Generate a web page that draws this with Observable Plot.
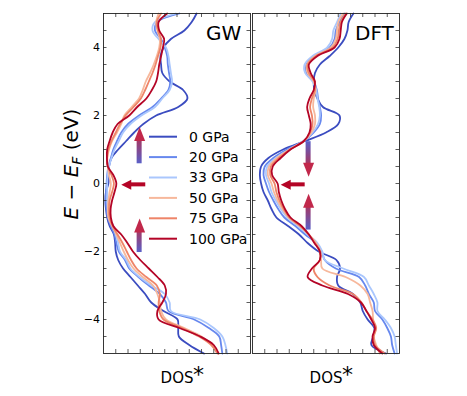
<!DOCTYPE html>
<html><head><meta charset="utf-8">
<script src="https://cdn.jsdelivr.net/npm/d3@7"></script>
<script src="https://cdn.jsdelivr.net/npm/@observablehq/plot@0.6"></script>
<style>
body{margin:0;background:#fff;}
#wrap{position:relative;width:467px;height:396px;font-family:"DejaVu Sans",sans-serif;color:#000;}
#ylab{position:absolute;left:71px;top:164px;transform:translate(-50%,-50%) rotate(-90deg);font-size:20px;white-space:nowrap;line-height:1;font-weight:normal;}
#ylab .sub{font-size:70%;position:relative;top:0.3em;}
</style></head><body><div id="wrap"></div>
<script>
const panels = ["GW", "DFT"];
const pressures = ["0 GPa", "20 GPa", "33 GPa", "50 GPa", "75 GPa", "100 GPa"];
const colors = ["#3b4cc0", "#6788ee", "#aac7fd", "#f7b89c", "#ee8468", "#b40426"];
const yTickLabels = [-4, -2, 0, 2, 4];
const energies = [-5,-4.75,-4.5,-4.25,-4,-3.75,-3.5,-3.25,-3,-2.75,-2.5,-2.25,-2,-1.75,-1.5,-1.25,-1,-0.75,-0.5,-0.25,0,0.25,0.5,0.75,1,1.25,1.5,1.75,2,2.25,2.5,2.75,3,3.25,3.5,3.75,4,4.25,4.5,4.75,5];

const gw0   = [8.2,7.0,6.15,6.1,6.05,4.9,3.9,3.4,2.8,2.2,1.6,1.2,1.0,0.95,0.85,0.5,0.3,0.2,0.15,0.2,0.4,0.45,0.45,0.65,1.2,1.85,2.5,3.25,4.3,6.1,6.85,6.5,5.4,4.8,4.7,4.65,4.9,5.5,6.6,7.2,7.6];
const gw20  = [9.7,9.6,9.45,8.6,7.4,5.3,5.1,4.6,3.7,2.85,2.1,1.75,1.25,1.05,0.9,0.6,0.35,0.25,0.2,0.2,0.25,0.3,0.4,0.6,0.8,1.1,1.45,2.0,2.9,4.0,4.7,5.3,5.45,5.35,5.25,5.2,5.0,4.7,4.2,4.4,6.2];
const gw33  = [10.1,9.95,9.7,9.0,7.9,5.5,5.4,5.0,3.9,2.95,2.2,1.85,1.35,1.2,1.0,0.8,0.5,0.35,0.3,0.3,0.3,0.35,0.45,0.65,0.9,1.25,1.6,2.2,3.1,4.2,4.8,5.4,5.6,5.5,5.4,5.3,5.1,4.5,4.0,4.2,5.9];
const gw50  = [9.4,8.9,8.0,6.6,5.1,4.7,4.6,4.4,4.05,3.2,2.45,2.0,1.65,1.35,1.05,0.7,0.4,0.35,0.4,0.5,0.6,0.45,0.35,0.3,0.45,0.7,1.1,1.45,1.7,2.3,2.9,3.2,3.45,3.8,4.1,4.35,4.55,4.6,4.4,4.3,4.5];
const gw75  = [9.3,8.8,7.8,6.4,4.9,4.55,4.5,4.6,4.35,3.5,2.7,2.25,1.9,1.55,1.15,0.75,0.5,0.45,0.5,0.7,0.85,0.65,0.35,0.3,0.4,0.65,1.0,1.35,1.8,2.45,3.05,3.4,3.7,4.0,4.25,4.45,4.65,4.7,4.45,4.35,4.7];
const gw100 = [9.4,9.0,7.9,6.2,4.5,4.4,4.8,5.1,5.0,4.4,3.7,3.0,2.4,1.95,1.45,0.8,0.6,0.58,0.7,0.9,1.05,0.8,0.35,0.28,0.3,0.5,0.75,1.15,2.1,2.75,3.5,3.95,4.3,4.45,4.55,4.7,4.85,4.95,4.55,4.5,5.2];

const dft0   = [10.9,9.7,9.85,9.95,9.4,9.0,8.8,8.2,7.0,6.9,7.15,6.85,5.4,4.5,3.8,2.9,1.95,1.55,1.25,0.9,0.7,0.6,0.7,1.3,2.5,4.3,6.0,7.0,7.1,5.75,5.3,5.05,5.0,5.1,5.5,6.3,7.0,7.5,7.75,7.85,8.24];
const dft20  = [11.6,11.4,11.3,11.0,10.6,10.0,9.9,9.5,9.2,8.7,6.8,5.9,5.65,5.2,4.3,3.5,2.6,2.1,1.7,1.35,1.1,0.9,1.0,1.7,2.8,4.2,5.0,5.5,5.6,5.5,5.35,5.25,5.0,4.4,4.4,5.0,6.3,6.7,6.8,7.1,7.5];
const dft33  = [11.8,11.7,11.6,11.3,10.8,10.2,10.2,9.9,9.5,9.1,7.4,5.9,5.7,5.3,4.5,3.7,2.85,2.3,1.9,1.55,1.35,1.1,1.2,1.9,3.0,4.15,4.9,5.35,5.5,5.45,5.3,5.2,4.9,4.3,4.25,4.9,6.1,6.5,6.6,6.9,7.2];
const dft50  = [10.4,10.1,9.9,10.0,9.85,9.8,9.6,9.4,8.8,7.6,5.7,5.6,5.55,5.2,4.6,3.85,2.95,2.45,2.05,1.75,1.55,1.25,1.35,2.0,3.0,4.2,4.8,5.1,5.1,4.95,5.0,5.15,5.0,4.5,4.45,5.1,6.4,6.8,6.9,7.0,7.4];
const dft75  = [10.8,10.0,9.9,10.1,9.8,9.3,8.9,8.2,6.3,5.3,5.0,5.5,5.5,5.1,4.6,3.9,3.0,2.55,2.2,1.95,1.8,1.45,1.5,2.15,3.05,4.2,4.7,4.9,4.85,4.7,4.85,5.1,5.05,4.6,4.5,5.2,6.55,6.95,7.05,7.2,7.6];
const dft100 = [10.6,9.9,9.8,10.0,9.7,9.3,8.85,7.8,5.7,4.5,4.85,5.5,5.5,5.05,4.6,4.0,3.1,2.65,2.35,2.15,2.05,1.6,1.65,2.3,3.1,4.2,4.65,4.75,4.6,4.46,4.65,5.0,5.1,4.75,4.6,5.3,6.7,7.1,7.2,7.3,7.7];

// annotation arrows (data units: DOS*, eV)
const arrowsUp   = [{panel:"GW", x:2.95, from:0.58, to:1.66}, {panel:"GW", x:2.95, from:-2.03, to:-1.03}, {panel:"DFT", x:4.58, from:-1.37, to:-0.3}];
const arrowsDown = [{panel:"DFT", x:4.58, from:1.23, to:0.2}];
const arrowsLeft = [{panel:"GW", y:-0.04, from:3.45, to:1.45}, {panel:"DFT", y:-0.04, from:4.3, to:2.3}];

const series = {GW: [gw0, gw20, gw33, gw50, gw75, gw100], DFT: [dft0, dft20, dft33, dft50, dft75, dft100]};
const rows = [];
for (const panel of panels) series[panel].forEach((vals, k) => vals.forEach((v, i) => rows.push({panel, p: pressures[k], E: energies[i], dos: v})));

const band = 147.5, frameH = 340;
const yMinor = d3.range(-4.5, 4.51, 0.5);
const xMinor = d3.range(1, 12, 1);
const tickStyle = {stroke: "#333", strokeWidth: 0.8};
const head = (w, h) => ({draw(ctx) { ctx.moveTo(0, 0); ctx.lineTo(w / 2, h); ctx.lineTo(-w / 2, h); ctx.closePath(); }});
const headV = head(11, 14), headH = head(10, 10);

const svg = Plot.plot({
  width: 467, height: 396,
  marginLeft: 103, marginRight: 67, marginTop: 13, marginBottom: 43,
  style: {fontFamily: "DejaVu Sans", fontSize: "11px", background: "white", color: "#000"},
  fx: {domain: panels, axis: null, paddingInner: 0.0134, paddingOuter: 0},
  x: {domain: [0, 12], axis: null},
  y: {domain: [-5, 5]},
  color: {domain: pressures, range: colors},
  marks: [
    Plot.line(rows, {fx: "panel", x: "dos", y: "E", z: "p", stroke: "p", strokeWidth: 1.8, curve: "catmull-rom"}),
    Plot.rect(arrowsUp, {fx: "panel", x1: "x", x2: "x", y1: "from", y2: "to", insetLeft: -2.5, insetRight: -2.5, insetTop: 12, fill: "url(#gUp)"}),
    Plot.rect(arrowsDown, {fx: "panel", x1: "x", x2: "x", y1: "from", y2: "to", insetLeft: -2.5, insetRight: -2.5, insetBottom: 12, fill: "url(#gDown)"}),
    Plot.dot(arrowsUp, {fx: "panel", x: "x", y: "to", symbol: headV, fill: "#c1284b", stroke: "none", rotate: 0}),
    Plot.dot(arrowsDown, {fx: "panel", x: "x", y: "to", symbol: headV, fill: "#c1284b", stroke: "none", rotate: 180}),
    Plot.rect(arrowsLeft, {fx: "panel", x1: "from", x2: "to", y1: "y", y2: "y", insetTop: -2, insetBottom: -2, insetLeft: 8, fill: "#b40426"}),
    Plot.dot(arrowsLeft, {fx: "panel", x: "to", y: "y", symbol: headH, fill: "#b40426", stroke: "none", rotate: -90}),
    Plot.tickY(yMinor, {y: d => d, insetRight: band - 4, ...tickStyle}),
    Plot.tickY(yMinor, {y: d => d, insetLeft: band - 4, ...tickStyle}),
    Plot.tickX(xMinor, {x: d => d, insetTop: frameH - 4, ...tickStyle}),
    Plot.tickX(xMinor, {x: d => d, insetBottom: frameH - 4, ...tickStyle}),
    Plot.frame({stroke: "#222", strokeWidth: 0.9}),
    Plot.axisY({ticks: yTickLabels, tickSize: 0, tickPadding: 3.5, label: null, fontSize: 11}),
    Plot.text(panels, {fx: d => d, text: d => d, frameAnchor: "top-left", dx: 102.5, dy: 20, textAnchor: "start", lineAnchor: "middle", fontSize: 20, fill: "#000"}),
    Plot.text(panels, {fx: d => d, text: () => "DOS", frameAnchor: "bottom", dx: 16.5, dy: 29, textAnchor: "end", lineAnchor: "bottom", fontSize: 15, fill: "#000"}),
    Plot.text(panels, {fx: d => d, text: () => "*", frameAnchor: "bottom", dx: 16, dy: 28.5, textAnchor: "start", lineAnchor: "bottom", fontSize: 22, fill: "#000"})
  ]
});

const defs = d3.select(svg).insert("defs", ":first-child");
const grad = (id, y1, y2) => {
  const g = defs.append("linearGradient").attr("id", id).attr("x1", 0).attr("x2", 0).attr("y1", y1).attr("y2", y2);
  g.append("stop").attr("offset", "0%").attr("stop-color", "#5a60c8");
  g.append("stop").attr("offset", "100%").attr("stop-color", "#a8365f");
};
grad("gUp", 1, 0);
grad("gDown", 0, 1);

const wrap = document.getElementById("wrap");
wrap.appendChild(svg);
svg.style.position = "absolute"; svg.style.left = "0"; svg.style.top = "0";

const ylab = document.createElement("div");
ylab.id = "ylab";
ylab.innerHTML = '<i>E</i> \u2212 <i>E</i><span class="sub"><i>F</i></span> (eV)';
wrap.appendChild(ylab);

// legend (SVG overlay)
const leg = d3.select(wrap).append("svg")
  .attr("width", 110).attr("height", 130)
  .style("position", "absolute").style("left", "145px").style("top", "125px")
  .style("font-family", "DejaVu Sans").style("font-size", "14px");
const items = leg.selectAll("g").data(pressures).join("g")
  .attr("transform", (d, k) => `translate(0,${11.7 + k * 20.4})`);
items.append("line").attr("x1", 4).attr("x2", 32).attr("stroke", (d, k) => colors[k]).attr("stroke-width", 2);
items.append("text").attr("x", 44).attr("dy", "0.35em").attr("fill", "#000").text(d => d);
</script></body></html>
